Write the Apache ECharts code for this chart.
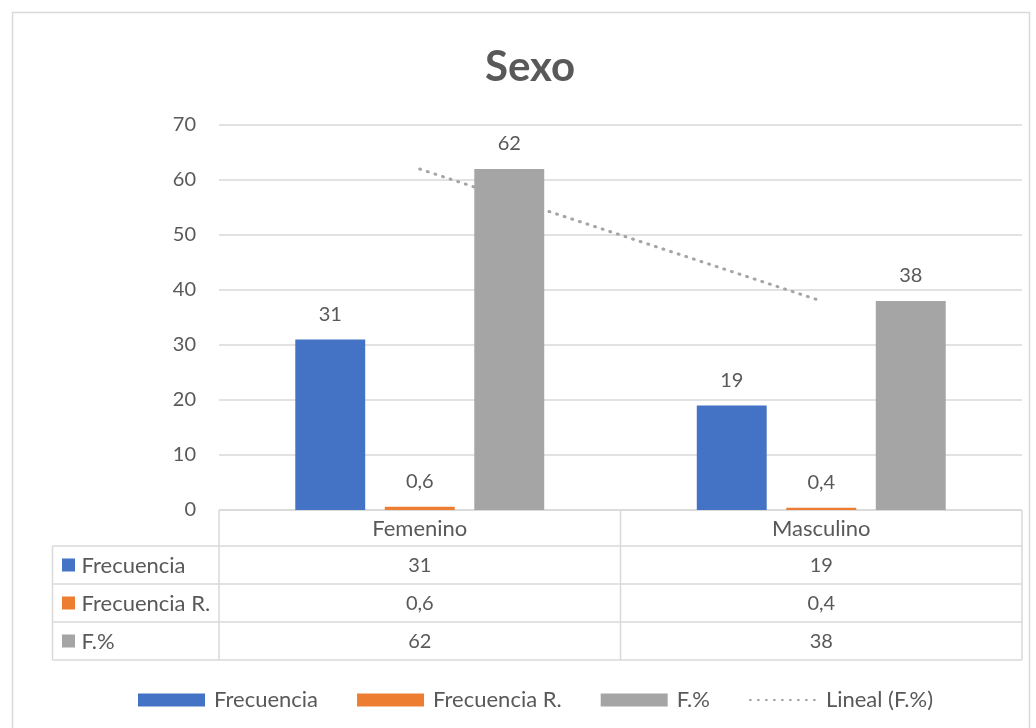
<!DOCTYPE html>
<html><head><meta charset="utf-8">
<script src="https://cdn.jsdelivr.net/npm/echarts@6/dist/echarts.min.js"></script>
<style>html,body{margin:0;padding:0;background:#fff}#c{width:1036px;height:728px}</style>
</head><body><div id="c"></div>
<script>
const titleText = 'Sexo';
const categories = ['Femenino', 'Masculino'];
const frecuencia = [31, 19];
const frecuenciaR = [0.6, 0.4];
const fPct = [62, 38];
const trendFPct = [62, 38];
const seriesNames = ['Frecuencia', 'Frecuencia R.', 'F.%'];
const trendName = 'Lineal (F.%)';
const yMin = 0, yMax = 70, yInterval = 10;

const colors = ['#4472C4', '#ED7D31', '#A5A5A5'];
const textColor = '#595959';
const gridColor = '#D9D9D9';
const FONT = 'Lato, "Open Sans", sans-serif';
const NUM_SIZE = 20, WORD_SIZE = 22;
const fmt = v => String(v).replace('.', ',');
const seriesValues = [frecuencia, frecuenciaR, fPct];

const chart = echarts.init(document.getElementById('c'), null, {renderer: 'canvas'});

const barSeries = seriesValues.map((vals, i) => ({
  name: seriesNames[i],
  type: 'bar',
  data: vals,
  z: 3,
  barGap: '28%',
  barCategoryGap: '38%',
  itemStyle: {color: colors[i]},
  label: {
    show: true, position: 'top', distance: 15,
    color: textColor, fontFamily: FONT, fontSize: NUM_SIZE,
    formatter: p => fmt(p.value)
  }
}));

const option = {
  animation: false,
  textStyle: {fontFamily: FONT},
  title: {
    text: titleText, left: 480, top: 41,
    textStyle: {color: textColor, fontSize: 42, fontWeight: 'bold', fontFamily: FONT}
  },
  grid: {left: 219, right: 14, top: 125, bottom: 218},
  xAxis: {
    type: 'category', data: categories,
    axisLine: {show: false}, axisTick: {show: false}, axisLabel: {show: false}
  },
  yAxis: {
    type: 'value', min: yMin, max: yMax, interval: yInterval,
    axisLine: {show: false}, axisTick: {show: false},
    axisLabel: {color: textColor, fontSize: NUM_SIZE, fontFamily: FONT, margin: 23},
    splitLine: {lineStyle: {color: gridColor, width: 1.5}}
  },
  legend: {
    left: 133, top: 684, itemWidth: 67, itemHeight: 13, itemGap: 39,
    textStyle: {color: textColor, fontSize: WORD_SIZE, fontFamily: FONT, padding: [0, 0, 0, 4]},
    data: [
      {name: seriesNames[0], icon: 'rect'},
      {name: seriesNames[1], icon: 'rect'},
      {name: seriesNames[2], icon: 'rect'},
      {name: trendName, itemStyle: {opacity: 0}}
    ]
  },
  series: barSeries.concat([{
    name: trendName, type: 'line', data: trendFPct, z: 1,
    symbol: 'none', silent: true,
    lineStyle: {color: '#A5A5A5', width: 3, type: [1, 7], cap: 'round'},
    itemStyle: {color: '#A5A5A5'}
  }])
};
chart.setOption(option);

// Data table drawn below the plot, built from the same arrays
function drawTable() {
  const centers = categories.map(c => chart.convertToPixel({xAxisIndex: 0}, c));
  const half = (centers[1] - centers[0]) / 2;
  const colEdges = [centers[0] - half].concat(centers.map(c => c + half));
  const y0 = chart.convertToPixel({yAxisIndex: 0}, yMin);
  const headerH = 36, rowH = 38;
  const tableLeft = 52.5;
  const rowTops = [y0 + headerH, y0 + headerH + rowH, y0 + headerH + 2 * rowH];
  const bottom = y0 + headerH + 3 * rowH;
  const right = colEdges[colEdges.length - 1];
  const ls = {stroke: gridColor, lineWidth: 1.5};
  const els = [];
  const line = (x1, y1, x2, y2) => els.push({type: 'line', shape: {x1, y1, x2, y2}, style: ls, silent: true});
  line(colEdges[0], y0, right, y0);
  rowTops.concat([bottom]).forEach(y => line(tableLeft, y, right, y));
  colEdges.forEach(x => line(x, y0, x, bottom));
  line(tableLeft, rowTops[0], tableLeft, bottom);
  const txt = (x, y, t, size, align) => els.push({type: 'text', x, y, silent: true,
    style: {text: t, fill: textColor, font: size + 'px ' + FONT, align: align || 'center', verticalAlign: 'middle'}});
  centers.forEach((cx, j) => txt(cx, y0 + headerH / 2 + 1, categories[j], WORD_SIZE));
  seriesValues.forEach((vals, i) => {
    const ym = rowTops[i] + rowH / 2;
    els.push({type: 'rect', shape: {x: tableLeft + 9.5, y: ym - 6.5, width: 13, height: 13}, style: {fill: colors[i]}, silent: true});
    txt(tableLeft + 29, ym + 1, seriesNames[i], WORD_SIZE, 'left');
    vals.forEach((v, j) => txt(centers[j], ym + 1, fmt(v), NUM_SIZE));
  });
  els.push({type: 'rect', shape: {x: 12.5, y: 12.5, width: 1017, height: 740}, style: {fill: null, stroke: gridColor, lineWidth: 1.5}, silent: true, z: -1});
  chart.setOption({graphic: {elements: els}});
}
drawTable();
</script>
</body></html>
